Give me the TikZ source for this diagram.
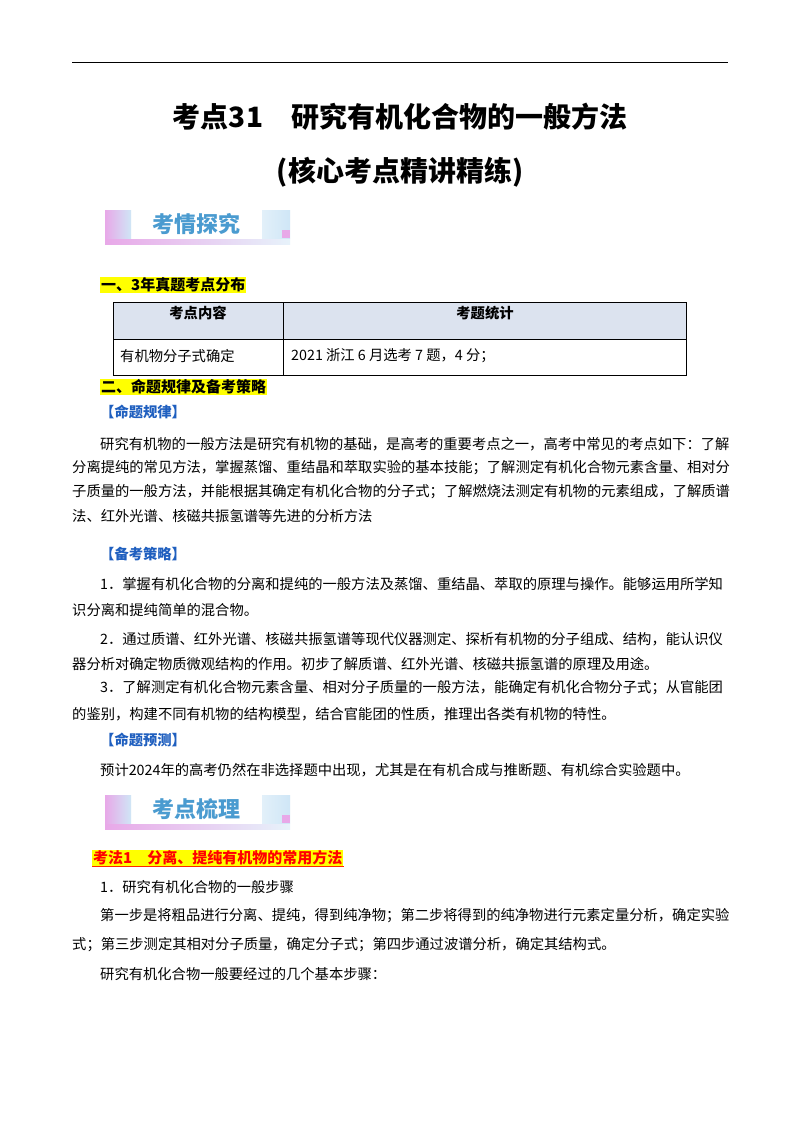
\documentclass[tikz,border=0pt]{standalone}
\usepackage{fontspec}
\setmainfont{Liberation Serif}
\newfontfamily\cjk{Noto Sans CJK SC}
\definecolor{hl}{HTML}{FFFF00}
\definecolor{tblue}{HTML}{DCE3EF}
\definecolor{bblue}{HTML}{1F5FBF}
\definecolor{ban}{HTML}{4A9BD0}
\definecolor{pk}{HTML}{E8A8E8}
\definecolor{lb}{HTML}{CFE6F6}
\begin{document}
\begin{tikzpicture}[x=1pt,y=-1pt,
  txt/.style={anchor=west,inner sep=0pt,font=\cjk\fontsize{14.3}{16}\selectfont},
  hd/.style={anchor=west,inner sep=1pt,fill=hl,font=\cjk\bfseries\fontsize{15}{17}\selectfont},
  blu/.style={anchor=west,inner sep=0pt,text=bblue,font=\cjk\bfseries\fontsize{14.3}{16}\selectfont},
  ttl/.style={inner sep=0pt,font=\cjk\bfseries\fontsize{28}{32}\selectfont},
  bantxt/.style={inner sep=0pt,text=ban,font=\cjk\bfseries\fontsize{22}{25}\selectfont}]
\useasboundingbox (0,0) rectangle (800,1132);
\fill[white] (0,0) rectangle (800,1132);
\draw[line width=1pt] (72,63) -- (728,63);
\node[ttl] (t1) at (400,117) {考点31\quad 研究有机化合物的一般方法};
\node[ttl] (t2) at (400,172) {(核心考点精讲精练)};
% banner 1
\shade[left color=pk,right color=lb] (105,210) rectangle (131,238);
\shade[left color=lb!60,right color=lb] (262,210) rectangle (290,238);
\fill[pk] (282,230) rectangle (290,238);
\shade[left color=pk,right color=lb!50] (105,239) rectangle (290,244);
\node[bantxt] (b1) at (196,224) {考情探究};
\node[hd] (h1) at (100,285) {一、3年真题考点分布};
% table
\fill[tblue] (113,302) rectangle (686,339);
\draw[line width=0.8pt] (113,302) rectangle (686,375);
\draw[line width=0.8pt] (113,339) -- (686,339);
\draw[line width=0.8pt] (283,302) -- (283,375);
\node[inner sep=0pt,font=\cjk\bfseries\fontsize{14.3}{16}\selectfont] (c1) at (198,313) {考点内容};
\node[inner sep=0pt,font=\cjk\bfseries\fontsize{14.3}{16}\selectfont] (c2) at (485,313) {考题统计};
\node[txt] (c3) at (120,356) {有机物分子式确定};
\node[txt] (c4) at (291,356) {2021 浙江 6 月选考 7 题，4 分；};
\node[hd] (h2) at (100,387) {二、命题规律及备考策略};
\node[blu] (g1) at (100,412) {【命题规律】};
\node[txt] (p1) at (100,444) {研究有机物的一般方法是研究有机物的基础，是高考的重要考点之一，高考中常见的考点如下：了解};
\node[txt] (p2) at (72,468) {分离提纯的常见方法，掌握蒸馏、重结晶和萃取实验的基本技能；了解测定有机化合物元素含量、相对分};
\node[txt] (p3) at (72,492) {子质量的一般方法，并能根据其确定有机化合物的分子式；了解燃烧法测定有机物的元素组成，了解质谱};
\node[txt] (p4) at (72,516) {法、红外光谱、核磁共振氢谱等先进的分析方法};
\node[blu] (g2) at (100,554) {【备考策略】};
\node[txt] (q1) at (100,584) {1．掌握有机化合物的分离和提纯的一般方法及蒸馏、重结晶、萃取的原理与操作。能够运用所学知};
\node[txt] (q2) at (72,610) {识分离和提纯简单的混合物。};
\node[txt] (q3) at (100,639) {2．通过质谱、红外光谱、核磁共振氢谱等现代仪器测定、探析有机物的分子组成、结构，能认识仪};
\node[txt] (q4) at (72,664) {器分析对确定物质微观结构的作用。初步了解质谱、红外光谱、核磁共振氢谱的原理及用途。};
\node[txt] (q5) at (100,688) {3．了解测定有机化合物元素含量、相对分子质量的一般方法，能确定有机化合物分子式；从官能团};
\node[txt] (q6) at (72,714) {的鉴别，构建不同有机物的结构模型，结合官能团的性质，推理出各类有机物的特性。};
\node[blu] (g3) at (100,740) {【命题预测】};
\node[txt] (r1) at (100,770) {预计2024年的高考仍然在非选择题中出现，尤其是在有机合成与推断题、有机综合实验题中。};
% banner 2
\shade[left color=pk,right color=lb] (105,795) rectangle (131,823);
\shade[left color=lb!60,right color=lb] (262,795) rectangle (290,823);
\fill[pk] (282,815) rectangle (290,823);
\shade[left color=pk,right color=lb!50] (105,824) rectangle (290,829);
\node[bantxt] (b2) at (196,809) {考点梳理};
\node[hd,text=red,inner sep=1pt] (h3) at (92,858) {考法1\quad 分离、提纯有机物的常用方法};
\draw[red!70!orange,line width=0.8pt] (h3.south west) -- (h3.south east);
\node[txt] (s1) at (100,887) {1．研究有机化合物的一般步骤};
\node[txt] (s2) at (100,916) {第一步是将粗品进行分离、提纯，得到纯净物；第二步将得到的纯净物进行元素定量分析，确定实验};
\node[txt] (s3) at (72,945) {式；第三步测定其相对分子质量，确定分子式；第四步通过波谱分析，确定其结构式。};
\node[txt] (s4) at (100,974) {研究有机化合物一般要经过的几个基本步骤：};
\end{tikzpicture}
\end{document}
